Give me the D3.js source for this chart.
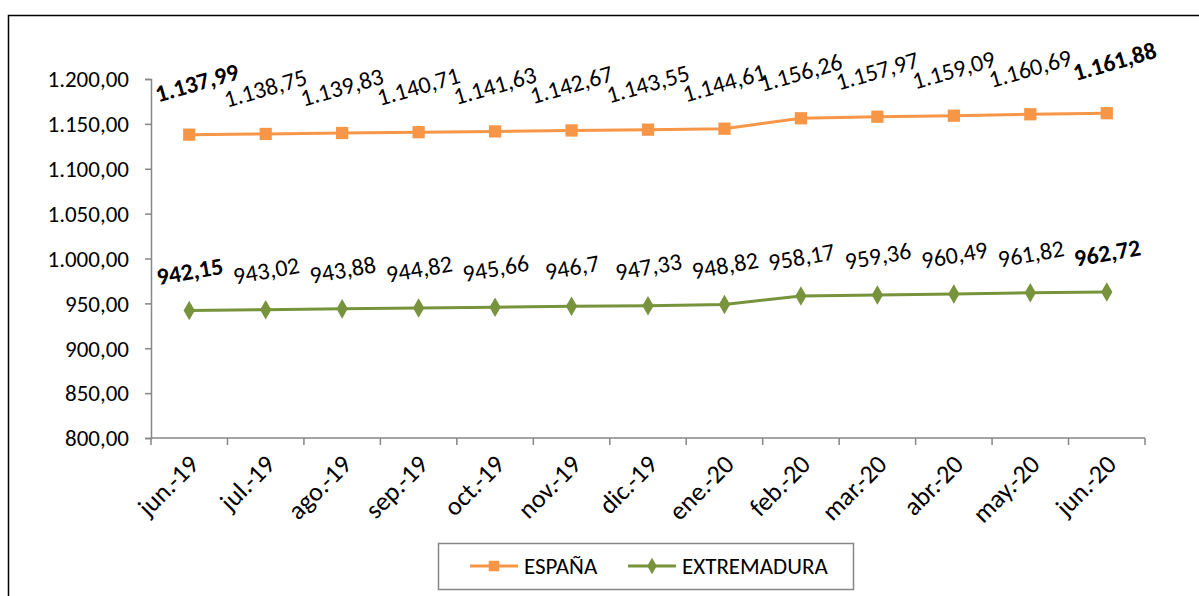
<!DOCTYPE html>
<html>
<head>
<meta charset="utf-8">
<script src="https://cdn.jsdelivr.net/npm/d3@7"></script>
<style>
  body { margin: 0; background: #fff; }
  svg { display: block; font-family: Carlito, Calibri, Lato, sans-serif; }
</style>
</head>
<body>
<script>
const months = ["jun.-19", "jul.-19", "ago.-19", "sep.-19", "oct.-19", "nov.-19", "dic.-19",
  "ene.-20", "feb.-20", "mar.-20", "abr.-20", "may.-20", "jun.-20"];
const espana = [1137.99, 1138.75, 1139.83, 1140.71, 1141.63, 1142.67, 1143.55,
  1144.61, 1156.26, 1157.97, 1159.09, 1160.69, 1161.88];
const extremadura = [942.15, 943.02, 943.88, 944.82, 945.66, 946.7, 947.33,
  948.82, 958.17, 959.36, 960.49, 961.82, 962.72];
const yTicks = [800, 850, 900, 950, 1000, 1050, 1100, 1150, 1200];

const W = 1199, H = 596;
const FS = 23;
const es = d3.formatLocale({decimal: ",", thousands: ".", grouping: [3], currency: ["", "€"]});
const fTick = es.format(",.2f");
const fLab = es.format(",.2~f");

const svg = d3.select("body").append("svg")
    .attr("width", W)
    .attr("height", H);

// outer chart frame
svg.append("rect")
    .attr("x", 8.5).attr("y", 15.5)
    .attr("width", 1300).attr("height", 700)
    .attr("fill", "none")
    .attr("stroke", "#000")
    .attr("stroke-width", 1.5);

const x = d3.scaleBand().domain(months).range([151, 1145]);
const y = d3.scaleLinear().domain([800, 1200]).range([438, 79]);

const axisColor = "#868686";

// y axis
const yAxis = svg.append("g")
    .attr("transform", "translate(151,0)")
    .call(d3.axisLeft(y).tickValues(yTicks).tickFormat(fTick).tickSize(6).tickPadding(16));
yAxis.attr("font-family", null).attr("font-size", FS);
yAxis.select(".domain").attr("stroke", axisColor).attr("stroke-width", 1.5);
yAxis.selectAll(".tick line").attr("stroke", axisColor).attr("stroke-width", 1.5);
yAxis.selectAll("text").attr("fill", "#000").attr("dy", "0.34em");

// x axis: ticks at band boundaries
const xg = svg.append("g").attr("transform", "translate(0,438)");
xg.append("line")
    .attr("x1", 151).attr("x2", 1145)
    .attr("stroke", axisColor).attr("stroke-width", 1.5);
const bounds = months.map(m => x(m)).concat([x.range()[1]]);
xg.selectAll("line.tk").data(bounds).join("line")
    .attr("class", "tk")
    .attr("x1", d => d).attr("x2", d => d)
    .attr("y1", 0).attr("y2", 7)
    .attr("stroke", axisColor).attr("stroke-width", 1.5);
xg.selectAll("text").data(months).join("text")
    .attr("transform", d => `translate(${x(d) + x.bandwidth() / 2 + 11},${28}) rotate(-45)`)
    .attr("text-anchor", "end")
    .attr("font-size", 26)
    .attr("fill", "#000")
    .text(d => d);

const cx = (d, i) => x(months[i]) + x.bandwidth() / 2;

const line = d3.line().x(cx).y(d => y(d));

// first/last labels are bold; boldShift nudges them like Excel did
function drawSeries(vals, color, shape, angle, lift, boldShift) {
  const g = svg.append("g");
  g.append("path")
      .attr("d", line(vals))
      .attr("fill", "none")
      .attr("stroke", color)
      .attr("stroke-width", 3);
  const sym = d3.symbol().type(shape === "square" ? d3.symbolSquare : d3.symbolDiamond)
      .size(shape === "square" ? 150 : 110);
  g.selectAll("path.mk").data(vals).join("path")
      .attr("class", "mk")
      .attr("d", sym)
      .attr("transform", (d, i) => `translate(${cx(d, i)},${y(d)})`)
      .attr("fill", color);
  const isBold = i => i === 0 || i === vals.length - 1;
  g.selectAll("text").data(vals).join("text")
      .attr("transform", (d, i) => {
        const s = isBold(i) ? boldShift : [0, 0];
        return `translate(${cx(d, i) + 2 + s[0]},${y(d) - lift - s[1]}) rotate(${angle})`;
      })
      .attr("text-anchor", "middle")
      .attr("font-size", 24)
      .attr("font-weight", (d, i) => isBold(i) ? "bold" : "normal")
      .attr("fill", "#000")
      .text(d => fLab(d));
}

drawSeries(espana, "#F79646", "square", -16, 38, [8, 6]);
drawSeries(extremadura, "#77933C", "diamond", -10, 31, [0, 0]);

// legend
const lg = svg.append("g");
lg.append("rect")
    .attr("x", 438.5).attr("y", 543.5)
    .attr("width", 415).attr("height", 46)
    .attr("fill", "#fff")
    .attr("stroke", "#868686")
    .attr("stroke-width", 1.5);
const items = [
  {name: "ESPAÑA", color: "#F79646", shape: d3.symbolSquare, size: 110, x0: 470},
  {name: "EXTREMADURA", color: "#77933C", shape: d3.symbolDiamond, size: 80, x0: 628}
];
items.forEach(it => {
  lg.append("line")
      .attr("x1", it.x0).attr("x2", it.x0 + 48)
      .attr("y1", 566).attr("y2", 566)
      .attr("stroke", it.color).attr("stroke-width", 3);
  lg.append("path")
      .attr("d", d3.symbol().type(it.shape).size(it.size)())
      .attr("transform", `translate(${it.x0 + 24},566)`)
      .attr("fill", it.color);
  lg.append("text")
      .attr("x", it.x0 + 54).attr("y", 574)
      .attr("font-size", FS)
      .attr("fill", "#000")
      .text(it.name);
});
</script>
</body>
</html>
